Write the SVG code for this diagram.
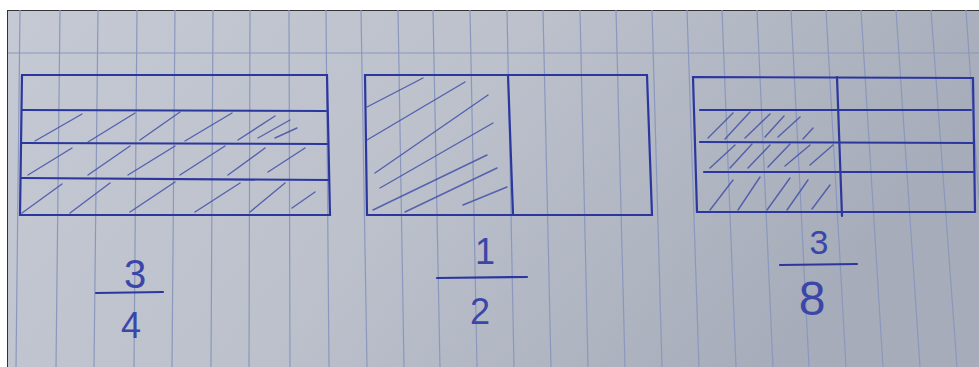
<svg xmlns="http://www.w3.org/2000/svg" width="979" height="367" viewBox="0 0 979 367">
<defs>
<linearGradient id="paper" x1="0" y1="0" x2="1" y2="0.3">
<stop offset="0" stop-color="#c5c9d3"/>
<stop offset="0.5" stop-color="#bcc1cc"/>
<stop offset="1" stop-color="#a6acb9"/>
</linearGradient>
<style>
.rule{stroke:#8b98bd;stroke-width:1.2;fill:none}
.pen{stroke:#2c379e;stroke-width:2.2;fill:none;stroke-linecap:round}
.hatch{stroke:#4350a8;stroke-width:1.4;fill:none;stroke-linecap:round;opacity:0.85}
.num{font-family:"Liberation Sans","DejaVu Sans",sans-serif;fill:#3a46a8;font-weight:normal}
</style>
</defs>
<rect width="979" height="367" fill="#ffffff"/>
<rect x="7" y="10" width="972" height="357" fill="url(#paper)"/>
<path d="M7 10.5H979M7.5 10V367" stroke="#333" stroke-width="1"/>
<g id="paper-lines">
<path class="rule" d="M8 53H979"/>
<path class="rule" d="M20 10L16 367M60 10L56 367M98 10L94 367M137 10L134 367M175 10L172 367M213 10L211 367M250 10L249 367M289 10L290 367M326 10L329 367M361 10L367 367M398 10L404 367M433 10L440 367M470 10L477 367M507 10L514 367M543 10L551 367M580 10L588 367M616 10L625 367M652 10L662 367M687 10L699 367M722 10L736 367M757 10L773 367M791 10L809 367M826 10L846 367M861 10L883 367M896 10L920 367M931 10L957 367M966 10L979 200"/>
</g>
<g id="node-three-quarters">
<path class="pen" d="M22 75L327 75L330 215L20 215Z"/>
<path class="pen" d="M22 110L326 111M22 143L327 144M21 178L329 180"/>
<path class="hatch" d="M35 141L82 114M88 142L135 113M140 140L180 112M185 141L232 113M238 140L275 116M258 138L290 120M275 138L297 128M28 175L72 148M88 175L130 146M128 175L175 146M180 175L225 146M228 175L265 148M268 172L305 148M22 213L62 184M70 213L110 183M130 212L175 182M195 212L240 183M250 212L285 183M292 208L315 192"/>
</g>
<g id="node-one-half">
<path class="pen" d="M365 75L647 75L652 215L367 215Z"/>
<path class="pen" d="M508 75L513 215"/>
<path class="hatch" d="M367 107L423 78M367 140L465 82M375 173L488 95M380 188L493 123M373 210L487 155M405 212L497 168M463 205L507 187"/>
</g>
<g id="node-three-eighths">
<path class="pen" d="M693 77L973 78L975 212L697 212Z"/>
<path class="pen" d="M837 77L842 216"/>
<path class="pen" d="M700 110L971 110M700 142L974 143M704 172L973 172"/>
<path class="hatch" d="M708 138L733 113M725 139L750 112M745 138L770 114M765 137L784 116M778 137L800 117M803 139L813 128M710 168L735 145M730 168L752 144M748 168L770 145M768 167L790 144M785 166L810 145M810 165L833 145M710 210L733 180M738 210L760 177M767 210L790 178M787 210L808 180M812 209L830 185"/>
</g>
<g id="fraction-labels">
<text class="num" x="135" y="288" font-size="40" text-anchor="middle">3</text>
<path class="pen" d="M96 293L163 292" stroke-width="1.8"/>
<text class="num" x="131" y="338" font-size="36" text-anchor="middle">4</text>
<text class="num" x="485" y="264" font-size="36" text-anchor="middle">1</text>
<path class="pen" d="M437 278L527 277" stroke-width="1.8"/>
<text class="num" x="480" y="324" font-size="36" text-anchor="middle">2</text>
<text class="num" x="819" y="254" font-size="34" text-anchor="middle">3</text>
<path class="pen" d="M780 265L857 264" stroke-width="1.8"/>
<text class="num" x="812" y="315" font-size="48" text-anchor="middle">8</text>
</g>
</svg>
